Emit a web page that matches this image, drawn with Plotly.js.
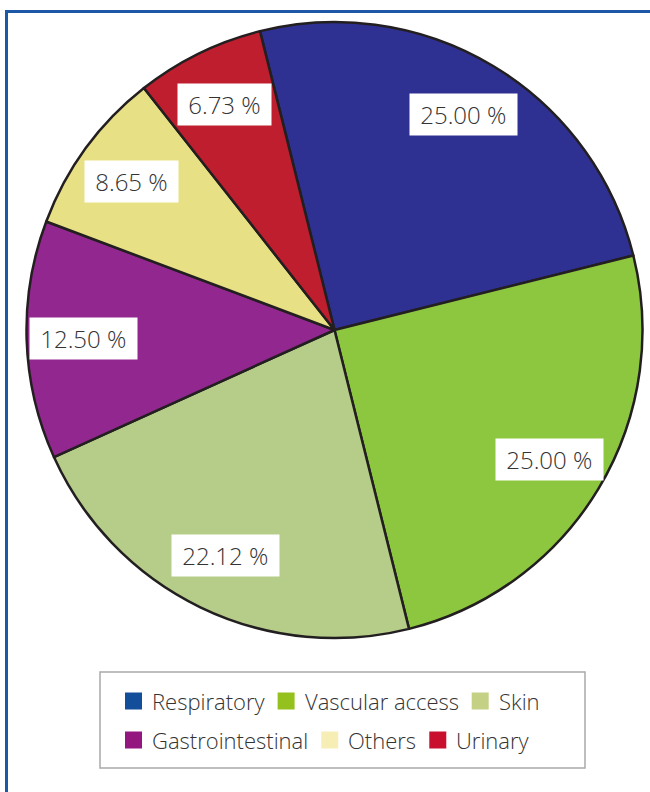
<!DOCTYPE html>
<html>
<head>
<meta charset="utf-8">
<script src="https://cdn.plot.ly/plotly-3.0.1.min.js"></script>
<style>html,body{margin:0;padding:0;background:#fff;}#chart{width:650px;height:792px;}</style>
</head>
<body>
<div id="chart"></div>
<script>
// ---- data ----
const categories = ["Respiratory", "Vascular access", "Skin", "Gastrointestinal", "Others", "Urinary"];
const percents = [25.00, 25.00, 22.12, 12.50, 8.65, 6.73];
const sliceColors = ["#2e3192", "#8dc63f", "#b6cd89", "#92278f", "#e8e085", "#be1e2d"];
const legendColors = ["#124e9a", "#95c11f", "#c4d185", "#93177f", "#f6eeb4", "#c8102e"];

// ---- layout constants ----
const W = 650, H = 792;
const cx = 334.5, cy = 330, R = 308;
const rotation = -14;
const labelRadius = 0.815;
const labelFont = {family: "Open Sans, sans-serif", size: 24, color: "#333333", weight: 300};
const legendFont = {family: "Open Sans, sans-serif", size: 22, color: "#333333", weight: 300};

const px = x => x / W;
const py = y => 1 - y / H;

const annotations = [];
const shapes = [];

// percentage labels at the middle angle of each slice
const total = percents.reduce((a, b) => a + b, 0);
let acc = 0;
percents.forEach((v, i) => {
  const mid = (rotation + (acc + v / 2) / total * 360) * Math.PI / 180;
  acc += v;
  const x = cx + labelRadius * R * Math.sin(mid);
  const y = cy - labelRadius * R * Math.cos(mid);
  annotations.push({
    x: px(x), y: py(y), xref: "paper", yref: "paper",
    text: "\u00a0" + v.toFixed(2) + " %\u00a0",
    showarrow: false, font: labelFont, bgcolor: "#ffffff", borderpad: 4,
    xanchor: "center", yanchor: "middle"
  });
});

// legend box drawn with shapes/annotations, flowing like the reference
const ctx = document.createElement("canvas").getContext("2d");
ctx.font = "300 " + legendFont.size + "px 'Open Sans'";
const boxL = 100, boxR = 585, boxT = 672, boxB = 768;
shapes.push({type: "rect", xref: "paper", yref: "paper", x0: px(boxL), x1: px(boxR), y0: py(boxB), y1: py(boxT),
  line: {color: "#a9a9a9", width: 1.5}, fillcolor: "rgba(0,0,0,0)"});
const sq = 17, gapSqText = 9, gapItems = 14, startX = 125, rowY = [701, 740], maxRight = 565;
let curX = startX, row = 0;
categories.forEach((c, i) => {
  const tw = ctx.measureText(c).width;
  const itemW = sq + gapSqText + tw;
  if (curX !== startX && curX + itemW > maxRight) { row++; curX = startX; }
  const yc = rowY[row];
  shapes.push({type: "rect", xref: "paper", yref: "paper",
    x0: px(curX), x1: px(curX + sq), y0: py(yc + sq / 2), y1: py(yc - sq / 2),
    line: {width: 0}, fillcolor: legendColors[i]});
  annotations.push({x: px(curX + sq + gapSqText), y: py(yc), xref: "paper", yref: "paper",
    text: c, showarrow: false, font: legendFont, xanchor: "left", yanchor: "middle", borderpad: 0});
  curX += itemW + gapItems;
});

// blue frame lines (top and left)
shapes.push({type: "line", xref: "paper", yref: "paper", x0: px(6.5), x1: px(6.5), y0: 0, y1: py(10.5), line: {color: "#1c58a5", width: 3}});
shapes.push({type: "line", xref: "paper", yref: "paper", x0: px(5), x1: 1, y0: py(11.5), y1: py(11.5), line: {color: "#1c58a5", width: 3}});

const trace = {
  type: "pie",
  labels: categories,
  values: percents,
  sort: false,
  direction: "clockwise",
  rotation: rotation,
  marker: {colors: sliceColors, line: {color: "#231f20", width: 2.5}},
  textinfo: "none",
  hoverinfo: "label+percent",
  showlegend: false,
  domain: {x: [px(cx - R), px(cx + R)], y: [py(cy + R), py(cy - R)]}
};

const layout = {
  width: W, height: H,
  margin: {l: 0, r: 0, t: 0, b: 0},
  paper_bgcolor: "#ffffff",
  showlegend: false,
  annotations: annotations,
  shapes: shapes
};

Plotly.newPlot("chart", [trace], layout, {displayModeBar: false, staticPlot: true});
</script>
</body>
</html>
